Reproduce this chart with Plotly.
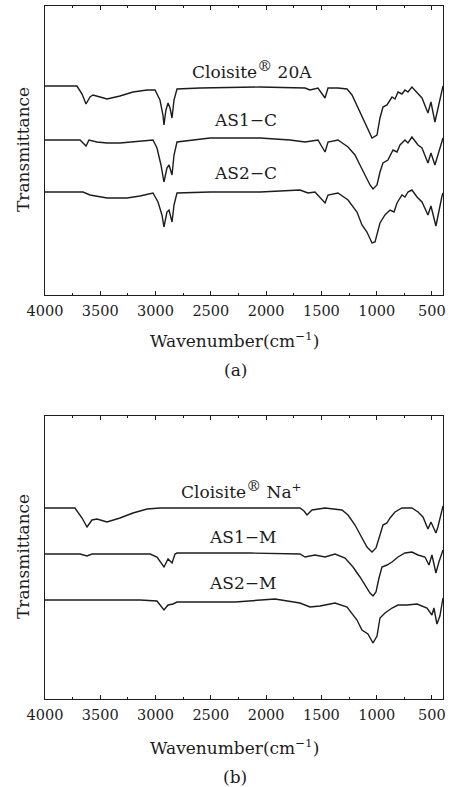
import plotly.graph_objects as go

# ---------------- data (wavenumber in cm-1, transmittance in arbitrary offset units) -------------
# Panel (a)
wn_c20a = [4000, 3711, 3665, 3629, 3593, 3566, 3502, 3439, 3322, 3204, 3077, 3005, 2960, 2933, 2924,
           2906, 2887, 2869, 2851, 2833, 2806, 2598, 2055, 1648, 1603, 1531, 1467, 1440, 1350, 1268,
           1223, 1151, 1088, 1042, 997, 970, 943, 907, 861, 834, 807, 771, 744, 717, 681, 635, 590,
           536, 509, 473, 446, 409, 400]
t_c20a = [209, 209, 201, 191, 198, 200, 198, 196, 199, 203, 205, 205, 195, 180, 170,
          185, 192, 187, 177, 195, 206, 207, 208, 207, 205, 207, 197, 207, 207, 206,
          200, 183, 167, 157, 160, 177, 188, 190, 198, 196, 203, 201, 205, 203, 208, 202, 197,
          182, 193, 173, 187, 205, 209]

wn_as1c = [4000, 3683, 3629, 3602, 3530, 3439, 3322, 3141, 3023, 2987, 2951, 2924, 2897, 2878, 2851,
           2833, 2806, 2507, 2055, 1784, 1648, 1531, 1467, 1440, 1350, 1259, 1196, 1151, 1106, 1060,
           1033, 997, 970, 943, 898, 852, 816, 789, 744, 717, 681, 626, 590, 536, 509, 473, 446,
           409, 400]
t_as1c = [155, 155, 149, 155, 153, 152, 152, 154, 155, 147, 130, 113, 127, 130, 120,
          140, 153, 157, 157, 155, 153, 155, 143, 153, 155, 148, 140, 130, 120, 110,
          106, 110, 123, 132, 135, 145, 143, 150, 155, 152, 158, 150, 147, 132, 142, 130, 140,
          153, 157]

wn_as2c = [4000, 3656, 3593, 3439, 3258, 3141, 3023, 2978, 2942, 2924, 2897, 2878, 2851, 2833, 2806,
           2507, 2055, 1694, 1621, 1558, 1467, 1440, 1350, 1259, 1178, 1133, 1088, 1042, 1015, 970,
           925, 879, 843, 816, 771, 744, 717, 681, 635, 590, 536, 509, 464, 437, 409, 400]
t_as2c = [103, 103, 100, 97, 97, 99, 102, 93, 80, 68, 83, 85, 73, 90, 102,
          103, 103, 105, 102, 103, 92, 100, 102, 95, 83, 70, 63, 52, 53, 72,
          80, 85, 83, 92, 100, 98, 103, 105, 98, 93, 80, 89, 69, 85, 99, 102]

# Panel (b)
wn_cna = [4000, 3729, 3665, 3620, 3575, 3530, 3439, 3322, 3204, 3077, 2960, 2598, 2055, 1694, 1657,
          1630, 1585, 1467, 1314, 1259, 1196, 1133, 1088, 1042, 1006, 970, 943, 907, 879, 834,
          771, 681, 626, 581, 536, 509, 464, 446, 409, 400]
t_cna = [191, 191, 181, 172, 179, 180, 177, 181, 186, 190, 191, 191, 191, 191, 188,
         184, 189, 191, 189, 184, 174, 161, 152, 147, 151, 164, 174, 176, 181, 187,
         191, 191, 187, 182, 170, 177, 166, 172, 189, 193]

wn_as1m = [4000, 3683, 3620, 3575, 3322, 3050, 2987, 2924, 2887, 2851, 2824, 2806, 2146, 1694, 1648,
           1558, 1467, 1377, 1286, 1214, 1151, 1106, 1060, 1033, 1006, 979, 952, 907, 861, 807,
           744, 681, 626, 563, 527, 500, 464, 437, 409, 400]
t_as1m = [145, 145, 143, 145, 145, 145, 142, 132, 140, 136, 145, 146, 146, 145, 142,
          144, 142, 145, 141, 132, 122, 114, 106, 103, 107, 121, 132, 134, 137, 142,
          146, 147, 144, 142, 134, 144, 126, 137, 146, 149]

wn_as2m = [4000, 3141, 2987, 2942, 2924, 2887, 2842, 2806, 2345, 2281, 1920, 1802, 1694, 1603, 1513,
           1422, 1377, 1268, 1178, 1133, 1079, 1033, 997, 970, 925, 861, 807, 726, 635, 545,
           500, 482, 455, 428, 409, 400]
t_as2m = [99, 99, 98, 92, 89, 94, 95, 97, 97, 97, 100, 98, 96, 92, 93,
          95, 96, 92, 79, 69, 65, 56, 63, 81, 86, 91, 94, 94, 95, 91,
          84, 91, 75, 83, 97, 101]

tick_vals = [4000, 3500, 3000, 2500, 2000, 1500, 1000, 500]
tick_text = ["4000", "3500", "3000", "2500", "2000", "1500", "1000", "500"]

REG = '<sup><span style="font-size:15px">®</span></sup>'
labels_a = ["Cloisite" + REG + " 20A", "AS1−C", "AS2−C"]
labels_b = ["Cloisite" + REG + " Na<sup>+</sup>", "AS1−M", "AS2−M"]

# ---------------- figure -------------
W, H = 453, 787
FONT = "DejaVu Serif"
INK = "#1c1c1c"


def px(p):
    return p / W


def py(p):
    return 1 - p / H


fig = go.Figure()


def add(x, y, xa, ya):
    fig.add_trace(go.Scatter(x=x, y=y, mode="lines", xaxis=xa, yaxis=ya,
                             line=dict(color=INK, width=1.4), showlegend=False,
                             hoverinfo="skip"))


add(wn_c20a, t_c20a, "x", "y")
add(wn_as1c, t_as1c, "x", "y")
add(wn_as2c, t_as2c, "x", "y")
add(wn_cna, t_cna, "x2", "y2")
add(wn_as1m, t_as1m, "x2", "y2")
add(wn_as2m, t_as2m, "x2", "y2")

xdom = [px(45), px(443)]
xcommon = dict(range=[4000, 400], domain=xdom, showline=True, linecolor=INK, linewidth=1.4,
               mirror="ticks", ticks="inside", ticklen=4, tickwidth=1, tickcolor=INK,
               tickvals=tick_vals, ticktext=tick_text, showgrid=False, zeroline=False,
               automargin=False,
               tickfont=dict(family=FONT, size=14.5, color=INK), ticklabelstandoff=2,
               minor=dict(ticks="inside", ticklen=2, tickcolor=INK, dtick=250, tick0=0,
                          showgrid=False))
ycommon = dict(showline=True, linecolor=INK, linewidth=1.4, mirror=True, ticks="",
               showticklabels=False, showgrid=False, zeroline=False, automargin=False)

fig.update_layout(
    width=W, height=H, margin=dict(l=0, r=0, t=0, b=0, autoexpand=False),
    paper_bgcolor="white", plot_bgcolor="white",
    xaxis=dict(xcommon, anchor="y"),
    yaxis=dict(ycommon, range=[0, 289], domain=[py(295), py(6)], anchor="x"),
    xaxis2=dict(xcommon, anchor="y2"),
    yaxis2=dict(ycommon, range=[0, 283], domain=[py(699), py(416)], anchor="x2"),
)

ann = []


def text(t, x, y, size=17, angle=0):
    ann.append(dict(text=t, x=px(x), y=py(y), xref="paper", yref="paper", showarrow=False,
                    xanchor="center", yanchor="middle", textangle=angle,
                    font=dict(family=FONT, size=size, color=INK)))


# panel (a)
text(labels_a[0], 252, 69)
text(labels_a[1], 245, 120)
text(labels_a[2], 245, 173)
text("Wavenumber(cm<sup>−1</sup>)", 234, 340)
text("(a)", 235, 370)
text("Transmittance", 23, 150, angle=-90)
# panel (b)
text(labels_b[0], 242, 489)
text(labels_b[1], 243, 537)
text(labels_b[2], 243, 583)
text("Wavenumber(cm<sup>−1</sup>)", 234, 747)
text("(b)", 235, 777)
text("Transmittance", 23, 557, angle=-90)

fig.update_layout(annotations=ann)

fig.write_html("out.html", config={"displayModeBar": False, "staticPlot": True},
               post_script="document.body.style.margin='0';document.body.style.overflow='hidden';")
